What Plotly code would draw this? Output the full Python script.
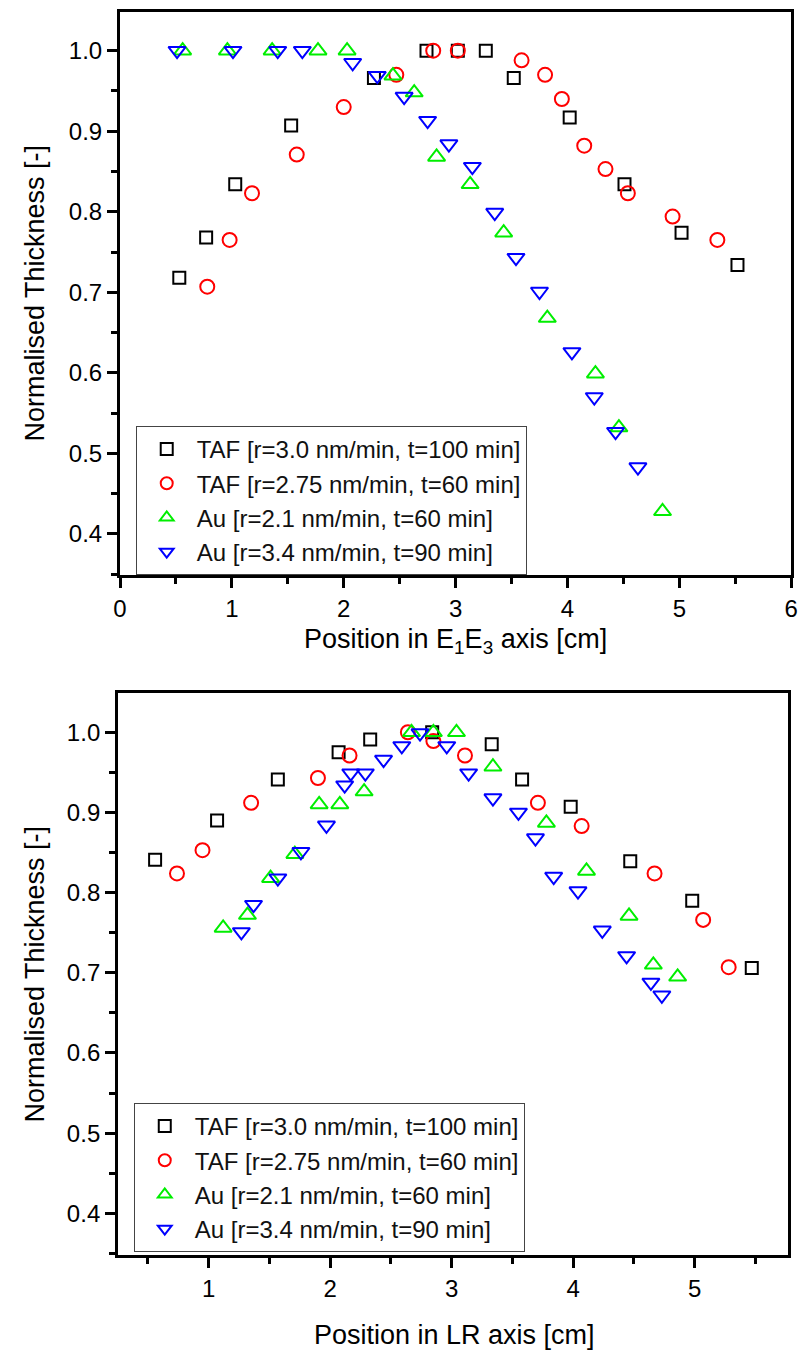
import plotly.graph_objects as go

# ---------------- data: E1E3 axis (top panel) ----------------
e13_taf30_x = [0.53, 0.77, 1.03, 1.53, 2.27, 2.74, 3.02, 3.27, 3.52, 4.02, 4.51, 5.02, 5.52]
e13_taf30_y = [0.718, 0.768, 0.834, 0.907, 0.966, 1.0, 1.0, 1.0, 0.966, 0.917, 0.834, 0.774, 0.734]

e13_taf275_x = [0.78, 0.98, 1.18, 1.58, 2.00, 2.47, 2.80, 3.02, 3.59, 3.80, 3.95, 4.15, 4.34, 4.54, 4.94, 5.34]
e13_taf275_y = [0.707, 0.765, 0.823, 0.871, 0.930, 0.970, 1.0, 1.0, 0.988, 0.970, 0.940, 0.882, 0.853, 0.823, 0.794, 0.765]

e13_au21_x = [0.56, 0.96, 1.36, 1.77, 2.03, 2.44, 2.63, 2.83, 3.13, 3.43, 3.82, 4.25, 4.46, 4.85]
e13_au21_y = [1.0, 1.0, 1.0, 1.0, 1.0, 0.969, 0.948, 0.868, 0.834, 0.774, 0.668, 0.599, 0.532, 0.428]

e13_au34_x = [0.51, 1.01, 1.41, 1.63, 2.08, 2.30, 2.54, 2.75, 2.94, 3.15, 3.35, 3.54, 3.75, 4.04, 4.24, 4.43, 4.63]
e13_au34_y = [1.0, 1.0, 1.0, 1.0, 0.985, 0.969, 0.943, 0.913, 0.884, 0.856, 0.799, 0.743, 0.701, 0.626, 0.570, 0.527, 0.483]

# ---------------- data: LR axis (bottom panel) ----------------
lr_taf30_x = [0.56, 1.07, 1.57, 2.07, 2.33, 2.84, 3.33, 3.58, 3.98, 4.47, 4.98, 5.47]
lr_taf30_y = [0.841, 0.890, 0.941, 0.975, 0.991, 1.0, 0.985, 0.941, 0.907, 0.839, 0.790, 0.706]

lr_taf275_x = [0.74, 0.95, 1.35, 1.90, 2.16, 2.64, 2.85, 3.11, 3.71, 4.07, 4.67, 5.07, 5.28]
lr_taf275_y = [0.824, 0.853, 0.912, 0.943, 0.971, 1.0, 0.989, 0.971, 0.912, 0.883, 0.824, 0.766, 0.707]

lr_au21_x = [1.12, 1.32, 1.51, 1.71, 1.91, 2.08, 2.28, 2.67, 2.85, 3.04, 3.34, 3.78, 4.11, 4.46, 4.66, 4.86]
lr_au21_y = [0.756, 0.772, 0.818, 0.848, 0.910, 0.910, 0.926, 1.0, 1.0, 1.0, 0.957, 0.887, 0.827, 0.771, 0.710, 0.695]

lr_au34_x = [1.27, 1.37, 1.57, 1.76, 1.97, 2.12, 2.17, 2.29, 2.44, 2.59, 2.74, 2.96, 3.14, 3.34,
             3.55, 3.69, 3.84, 4.04, 4.24, 4.44, 4.64, 4.73]
lr_au34_y = [0.751, 0.785, 0.818, 0.851, 0.884, 0.934, 0.949, 0.949, 0.966, 0.983, 0.999, 0.983, 0.949, 0.918,
             0.900, 0.868, 0.820, 0.802, 0.753, 0.721, 0.688, 0.672]

series_names = [
    "TAF [r=3.0 nm/min, t=100 min]",
    "TAF [r=2.75 nm/min, t=60 min]",
    "Au [r=2.1 nm/min, t=60 min]",
    "Au [r=3.4 nm/min, t=90 min]",
]
series_colors = ["#000000", "#ff0000", "#00ee00", "#0000ff"]
series_symbols = ["square-open", "circle-open", "triangle-up-open", "triangle-down-open"]
series_sizes = [12, 14, 15, 15]

top_title_x = "Position in E<sub>1</sub>E<sub>3</sub> axis [cm]"
bot_title_x = "Position in LR axis [cm]"
title_y = "Normalised Thickness [-]"

FONT = "Liberation Sans, Arial, sans-serif"

fig = go.Figure()

top_sets = [(e13_taf30_x, e13_taf30_y), (e13_taf275_x, e13_taf275_y),
            (e13_au21_x, e13_au21_y), (e13_au34_x, e13_au34_y)]
bot_sets = [(lr_taf30_x, lr_taf30_y), (lr_taf275_x, lr_taf275_y),
            (lr_au21_x, lr_au21_y), (lr_au34_x, lr_au34_y)]

for i, (xs, ys) in enumerate(top_sets):
    fig.add_trace(go.Scatter(
        x=xs, y=ys, mode="markers", name=series_names[i],
        xaxis="x", yaxis="y", legend="legend",
        marker=dict(symbol=series_symbols[i], size=series_sizes[i],
                    color=series_colors[i], line=dict(width=2, color=series_colors[i])),
    ))
for i, (xs, ys) in enumerate(bot_sets):
    fig.add_trace(go.Scatter(
        x=xs, y=ys, mode="markers", name=series_names[i],
        xaxis="x2", yaxis="y2", legend="legend2",
        marker=dict(symbol=series_symbols[i], size=series_sizes[i],
                    color=series_colors[i], line=dict(width=2, color=series_colors[i])),
    ))

W, H = 808, 1356
top_dom_x = [115 / W, 798 / W]
top_dom_y = [1 - 575 / H, 1 - 12 / H]
bot_dom_x = [113 / W, 795 / W]
bot_dom_y = [1 - 1255 / H, 1 - 693 / H]

tickfont = dict(family=FONT, size=24, color="black")
titlefont = dict(family=FONT, size=27, color="black")
legfont = dict(family=FONT, size=24, color="#111111")

def main_axis(dom, rng, dtick, minor_dtick, anchor, fmt=None):
    d = dict(domain=dom, range=rng, anchor=anchor, dtick=dtick, tick0=0,
             showline=True, linewidth=3, linecolor="black", mirror=True,
             ticks="outside", ticklen=10, tickwidth=2.5, tickcolor="black",
             minor=dict(dtick=minor_dtick, tick0=0, ticks="outside", ticklen=6,
                        tickwidth=2.5, tickcolor="black", showgrid=False),
             showgrid=False, zeroline=False, tickfont=tickfont)
    if fmt:
        d["tickformat"] = fmt
    return d

def mirror_axis(over, side, dtick, minor_dtick, anchor):
    return dict(overlaying=over, matches=over, side=side, anchor=anchor, dtick=dtick, tick0=0,
                showline=False, ticks="inside", ticklen=10, tickwidth=2.5, tickcolor="black",
                minor=dict(dtick=minor_dtick, tick0=0, ticks="inside", ticklen=6,
                           tickwidth=2.5, tickcolor="black", showgrid=False),
                showgrid=False, zeroline=False, showticklabels=False)

def legend_cfg(x_px, y_px):
    return dict(x=x_px / W, y=1 - y_px / H, xanchor="left", yanchor="top",
                bgcolor="white", bordercolor="#444444", borderwidth=1,
                font=legfont, itemsizing="constant", itemwidth=50, tracegroupgap=0)

annotations = [
    dict(text=top_title_x, x=456 / W, y=1 - 641 / H, xref="paper", yref="paper",
         showarrow=False, font=titlefont, xanchor="center", yanchor="middle"),
    dict(text=bot_title_x, x=455 / W, y=1 - 1335 / H, xref="paper", yref="paper",
         showarrow=False, font=titlefont, xanchor="center", yanchor="middle"),
    dict(text=title_y, x=29 / W, y=1 - 293 / H, xref="paper", yref="paper", textangle=-90,
         showarrow=False, font=titlefont, xanchor="center", yanchor="middle"),
    dict(text=title_y, x=29 / W, y=1 - 974 / H, xref="paper", yref="paper", textangle=-90,
         showarrow=False, font=titlefont, xanchor="center", yanchor="middle"),
]

fig.update_layout(
    width=W, height=H,
    margin=dict(l=0, r=0, t=0, b=0),
    paper_bgcolor="white", plot_bgcolor="white",
    font=dict(family=FONT, color="black"),
    xaxis=main_axis(top_dom_x, [0, 6], 1, 0.5, "y"),
    yaxis=main_axis(top_dom_y, [0.349, 1.048], 0.1, 0.05, "x", fmt=".1f"),
    xaxis2=main_axis(bot_dom_x, [0.255, 5.77], 1, 0.5, "y2"),
    yaxis2=main_axis(bot_dom_y, [0.348, 1.049], 0.1, 0.05, "x2", fmt=".1f"),
    xaxis3=mirror_axis("x", "top", 1, 0.5, "y"),
    yaxis3=mirror_axis("y", "right", 0.1, 0.05, "x"),
    xaxis4=mirror_axis("x2", "top", 1, 0.5, "y2"),
    yaxis4=mirror_axis("y2", "right", 0.1, 0.05, "x2"),
    legend=legend_cfg(131, 426),
    legend2=legend_cfg(129, 1103),
    annotations=annotations,
    showlegend=True,
)

fig.write_html("out.html", config={"displayModeBar": False},
               post_script="document.body.style.margin='0';document.body.style.overflow='hidden';")
